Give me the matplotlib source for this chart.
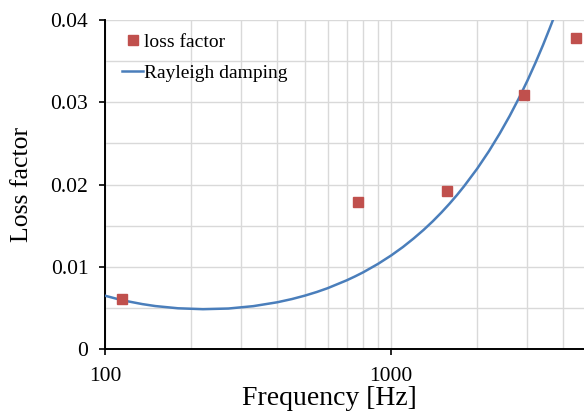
import numpy as np
import matplotlib
matplotlib.use("Agg")
import matplotlib.pyplot as plt
from matplotlib.ticker import FixedLocator, NullFormatter

plt.rcParams['font.family'] = ['Liberation Serif', 'DejaVu Serif']

# measured loss factor
freq_meas = [115, 766, 1570, 2917, 4436]
loss_meas = [0.0061, 0.0179, 0.0192, 0.0309, 0.0378]

# Rayleigh damping curve
freq_fit = [100, 110, 120, 135, 150, 180, 220, 270, 330, 400, 450, 500, 550,
            600, 700, 750, 800, 900, 1000, 1100, 1200, 1300, 1400, 1500, 1600,
            1700, 1800, 2000, 2200, 2400, 2600, 2800, 3000, 3200, 3400, 3600, 3700]
loss_fit = [0.00648, 0.00610, 0.00580, 0.00546, 0.00522, 0.00495, 0.00484,
            0.00492, 0.00521, 0.00568, 0.00607, 0.00649, 0.00693, 0.00739,
            0.00835, 0.00884, 0.00933, 0.01034, 0.01136, 0.01239, 0.01344,
            0.01448, 0.01553, 0.01659, 0.01765, 0.01871, 0.01978, 0.02191,
            0.02405, 0.02620, 0.02834, 0.03049, 0.03264, 0.03480, 0.03695,
            0.03911, 0.04018]

x_ticks = [100, 1000, 10000]
x_labels = ['100', '1000', '']
y_ticks = [0, 0.01, 0.02, 0.03, 0.04]
y_labels = ['0', '0.01', '0.02', '0.03', '0.04']

W, H = 584, 412
fig = plt.figure(figsize=(W / 100, H / 100), dpi=100)
# axes run past the right edge of the picture (cropped like the original)
ax = fig.add_axes([105 / W, 63 / H, 572 / W, 329 / H])

ax.set_xscale('log')
ax.set_xlim(100, 10000)
ax.set_ylim(0, 0.04)

grid_c = '#d9d9d9'
ax.xaxis.set_major_locator(FixedLocator(x_ticks))
ax.xaxis.set_minor_locator(FixedLocator([m * 10 ** e for e in (2, 3) for m in range(2, 10)]))
ax.xaxis.set_minor_formatter(NullFormatter())
ax.set_xticklabels(x_labels)
ax.yaxis.set_major_locator(FixedLocator(y_ticks))
ax.yaxis.set_minor_locator(FixedLocator([0.005, 0.015, 0.025, 0.035]))
ax.set_yticklabels(y_labels)
ax.grid(True, which='both', color=grid_c, linewidth=1.0, zorder=0)
ax.set_axisbelow(True)

ax.tick_params(which='major', direction='out', length=4, width=1.2, labelsize=15.5, colors='black')
ax.tick_params(axis='x', which='major', pad=9)
ax.tick_params(axis='y', which='major', pad=8)
ax.tick_params(which='minor', length=0)

for s in ['top', 'right']:
    ax.spines[s].set_visible(False)
for s in ['left', 'bottom']:
    ax.spines[s].set_linewidth(1.4)
    ax.spines[s].set_color('black')

ax.plot(freq_meas, loss_meas, linestyle='none', marker='s', markersize=6.5,
        color='#c0504d', label='loss factor', zorder=4, clip_on=False)
ax.plot(freq_fit, loss_fit, color='#4a7ebb', linewidth=1.8,
        label='Rayleigh damping', zorder=3)

ax.legend(loc='upper left', bbox_to_anchor=(122 / W, 1 - 33 / H),
          bbox_transform=fig.transFigure, frameon=False, fontsize=14,
          handlelength=1.1, handletextpad=0.05, labelspacing=0.7,
          borderpad=0, borderaxespad=0)

fig.text(22 / W, (H - 184.5) / H, 'Loss factor', rotation=90, ha='center',
         va='center', fontsize=18.5)
# x label sits at the very bottom edge, kept just inside the picture
fig.text(329.5 / W, (H - 405) / H, 'Frequency [Hz]', ha='center',
         va='baseline', fontsize=20)

fig.savefig('out.png', dpi=100)
